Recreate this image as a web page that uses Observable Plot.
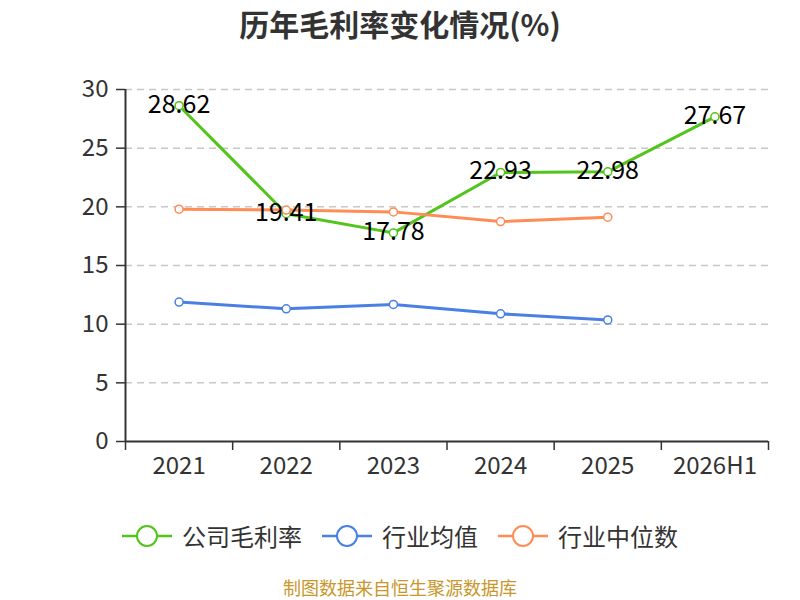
<!DOCTYPE html>
<html><head><meta charset="utf-8">
<script src="https://cdn.jsdelivr.net/npm/d3@7"></script>
<script src="https://cdn.jsdelivr.net/npm/@observablehq/plot@0.6"></script>
<style>
body{margin:0;width:800px;height:600px;background:#fff;font-family:"Noto Sans CJK SC","Noto Sans",sans-serif;position:relative;overflow:hidden}
#title{position:absolute;top:0;left:0;width:800px;text-align:center;font-size:30px;font-weight:bold;color:#333;line-height:46px}
#chart{position:absolute;top:50px;left:0}
#ylabel{position:absolute;left:42px;top:113px;width:40px;text-align:center;font-size:15px;color:#f00;transform:rotate(-90deg);line-height:24px}
#legend{position:absolute;top:518px;left:0;width:800px;display:flex;justify-content:center;align-items:center;font-size:24px;color:#333;line-height:36px}
.item{display:flex;align-items:center;margin:0 10px}
.item svg{margin-right:10px}
#caption{position:absolute;top:577px;left:0;width:800px;text-align:center;font-size:18px;color:#c8962a;line-height:21px}
</style>
</head><body>
<div id="title">历年毛利率变化情况(%)</div>
<div id="ylabel">(%)</div>
<div id="chart"></div>
<div id="legend"></div>
<div id="caption">制图数据来自恒生聚源数据库</div>
<script>
const categories = ["2021","2022","2023","2024","2025","2026H1"];
const companyMargin = [28.62, 19.41, 17.78, 22.93, 22.98, 27.67];
const industryAvg = [11.88, 11.31, 11.68, 10.88, 10.36];
const industryMedian = [19.80, 19.72, 19.57, 18.74, 19.12];
const yTicks = [0, 5, 10, 15, 20, 25, 30];
const seriesNames = ["公司毛利率", "行业均值", "行业中位数"];
const seriesColors = ["#52c41a", "#4a80e4", "#ff8c55"];

const rows = [];
[companyMargin, industryAvg, industryMedian].forEach((arr, s) => {
  arr.forEach((v, i) => rows.push({series: seriesNames[s], i, v}));
});
const idx = categories.map((c, i) => i);
const bounds = categories.map((c, i) => i - 0.5).concat([categories.length - 0.5]);
const font = "Noto Sans CJK SC, Noto Sans, sans-serif";

const chart = Plot.plot({
  width: 800,
  height: 450,
  marginLeft: 125,
  marginRight: 32,
  marginTop: 39,
  marginBottom: 59,
  style: {fontFamily: font, background: "white"},
  x: {type: "linear", domain: [-0.5, categories.length - 0.5], axis: null},
  y: {domain: [0, 30], axis: null},
  color: {domain: seriesNames, range: seriesColors},
  marks: [
    Plot.gridY(yTicks.filter(d => d > 0), {stroke: "#c8c8c8", strokeOpacity: 1, strokeWidth: 1.5, strokeDasharray: "7,5"}),
    Plot.axisY({ticks: yTicks, tickSize: 9, tickPadding: 8, fontSize: 24, stroke: "#333", color: "#333", label: null, tickFormat: d => String(d), strokeWidth: 1.5}),
    Plot.axisX({ticks: idx, tickSize: 0, tickPadding: 15, fontSize: 24, color: "#333", tickFormat: i => categories[i], label: null}),
    Plot.axisX({ticks: bounds, tickSize: 9, tickFormat: () => "", stroke: "#333", label: null, strokeWidth: 1.5}),
    Plot.ruleX([-0.5], {y1: 0, y2: 30, stroke: "#333", strokeWidth: 2}),
    Plot.ruleY([0], {stroke: "#333", strokeWidth: 2}),
    Plot.line(rows, {x: "i", y: "v", stroke: "series", z: "series", strokeWidth: 3}),
    Plot.dot(rows, {x: "i", y: "v", stroke: "series", fill: "white", r: 4, strokeWidth: 1.5}),
    Plot.text(companyMargin.map((v, i) => ({i, v})), {x: "i", y: "v", text: d => d.v.toFixed(2), fontSize: 25, fill: "#000", dy: -1, lineAnchor: "middle", textAnchor: "middle"})
  ]
});
document.getElementById("chart").appendChild(chart);

const legend = document.getElementById("legend");
seriesNames.forEach((name, s) => {
  const item = document.createElement("div");
  item.className = "item";
  const c = seriesColors[s];
  item.innerHTML = `<svg width="50" height="24"><line x1="0" y1="12" x2="50" y2="12" stroke="${c}" stroke-width="2.5"/><circle cx="25" cy="12" r="10" fill="white" stroke="${c}" stroke-width="2"/></svg><span>${name}</span>`;
  legend.appendChild(item);
});
</script>
</body></html>
